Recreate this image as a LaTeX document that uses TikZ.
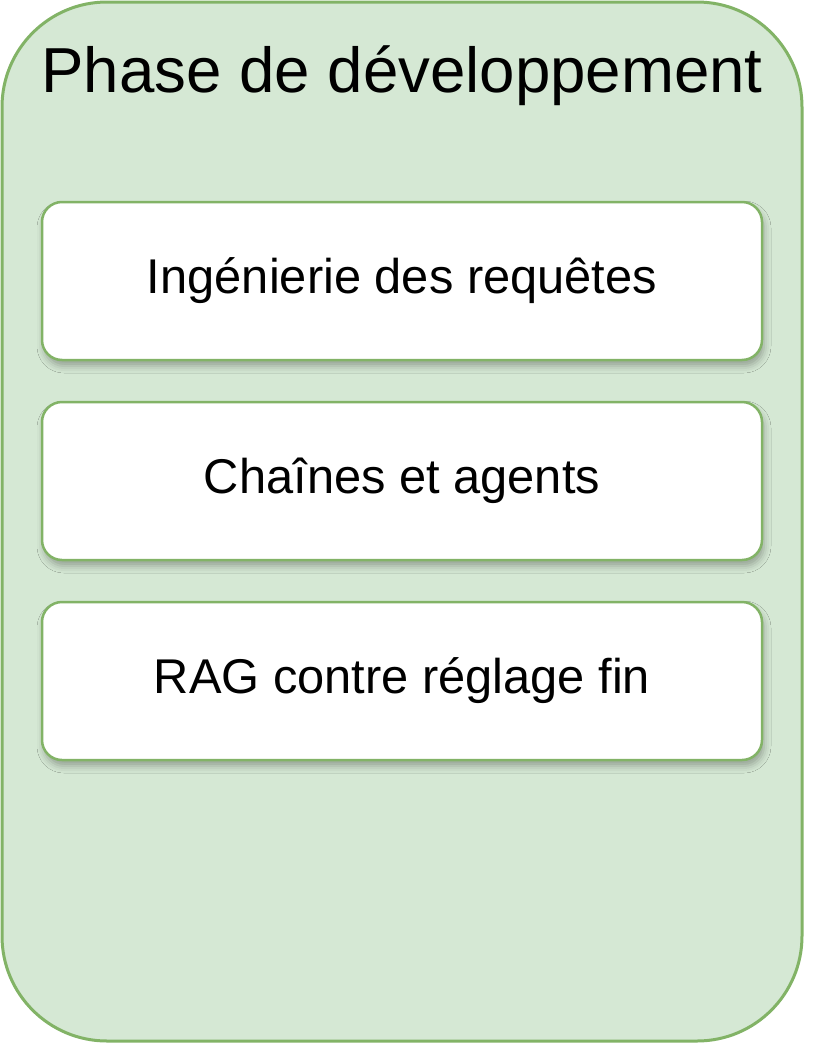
\documentclass[tikz,border=0pt]{standalone}
\usepackage{fontspec}
\setmainfont{Liberation Sans}
\usetikzlibrary{shadows.blur}
\definecolor{gfill}{HTML}{D5E8D4}
\definecolor{gline}{HTML}{82B366}
\tikzset{
  outer/.style={draw=gline, fill=gfill, line width=3pt, rounded corners=105pt},
  itembox/.style={draw=gline, fill=white, line width=2.5pt, rounded corners=20pt,
    minimum width=720pt, minimum height=158pt, inner sep=0pt,
    blur shadow={shadow xshift=2pt, shadow yshift=-6pt, shadow blur radius=7pt, shadow opacity=30},
    font=\fontsize{48.8}{58}\selectfont, text=black}
}
\begin{document}
\begin{tikzpicture}[x=1pt,y=1pt]
\useasboundingbox (0,0) rectangle (836,-1044);
\fill[white] (0,0) rectangle (836,-1044);
\draw[outer] (2,-2) rectangle (802,-1041);
\node[anchor=base, font=\fontsize{63.6}{76}\selectfont] (title) at (402,-92) {Phase de développement};
\node[itembox] (a) at (402,-281) {Ingénierie des requêtes};
\node[itembox] (b) at (402,-481) {Chaînes et agents};
\node[itembox] (c) at (402,-681) {RAG contre réglage fin};
\end{tikzpicture}
\end{document}
